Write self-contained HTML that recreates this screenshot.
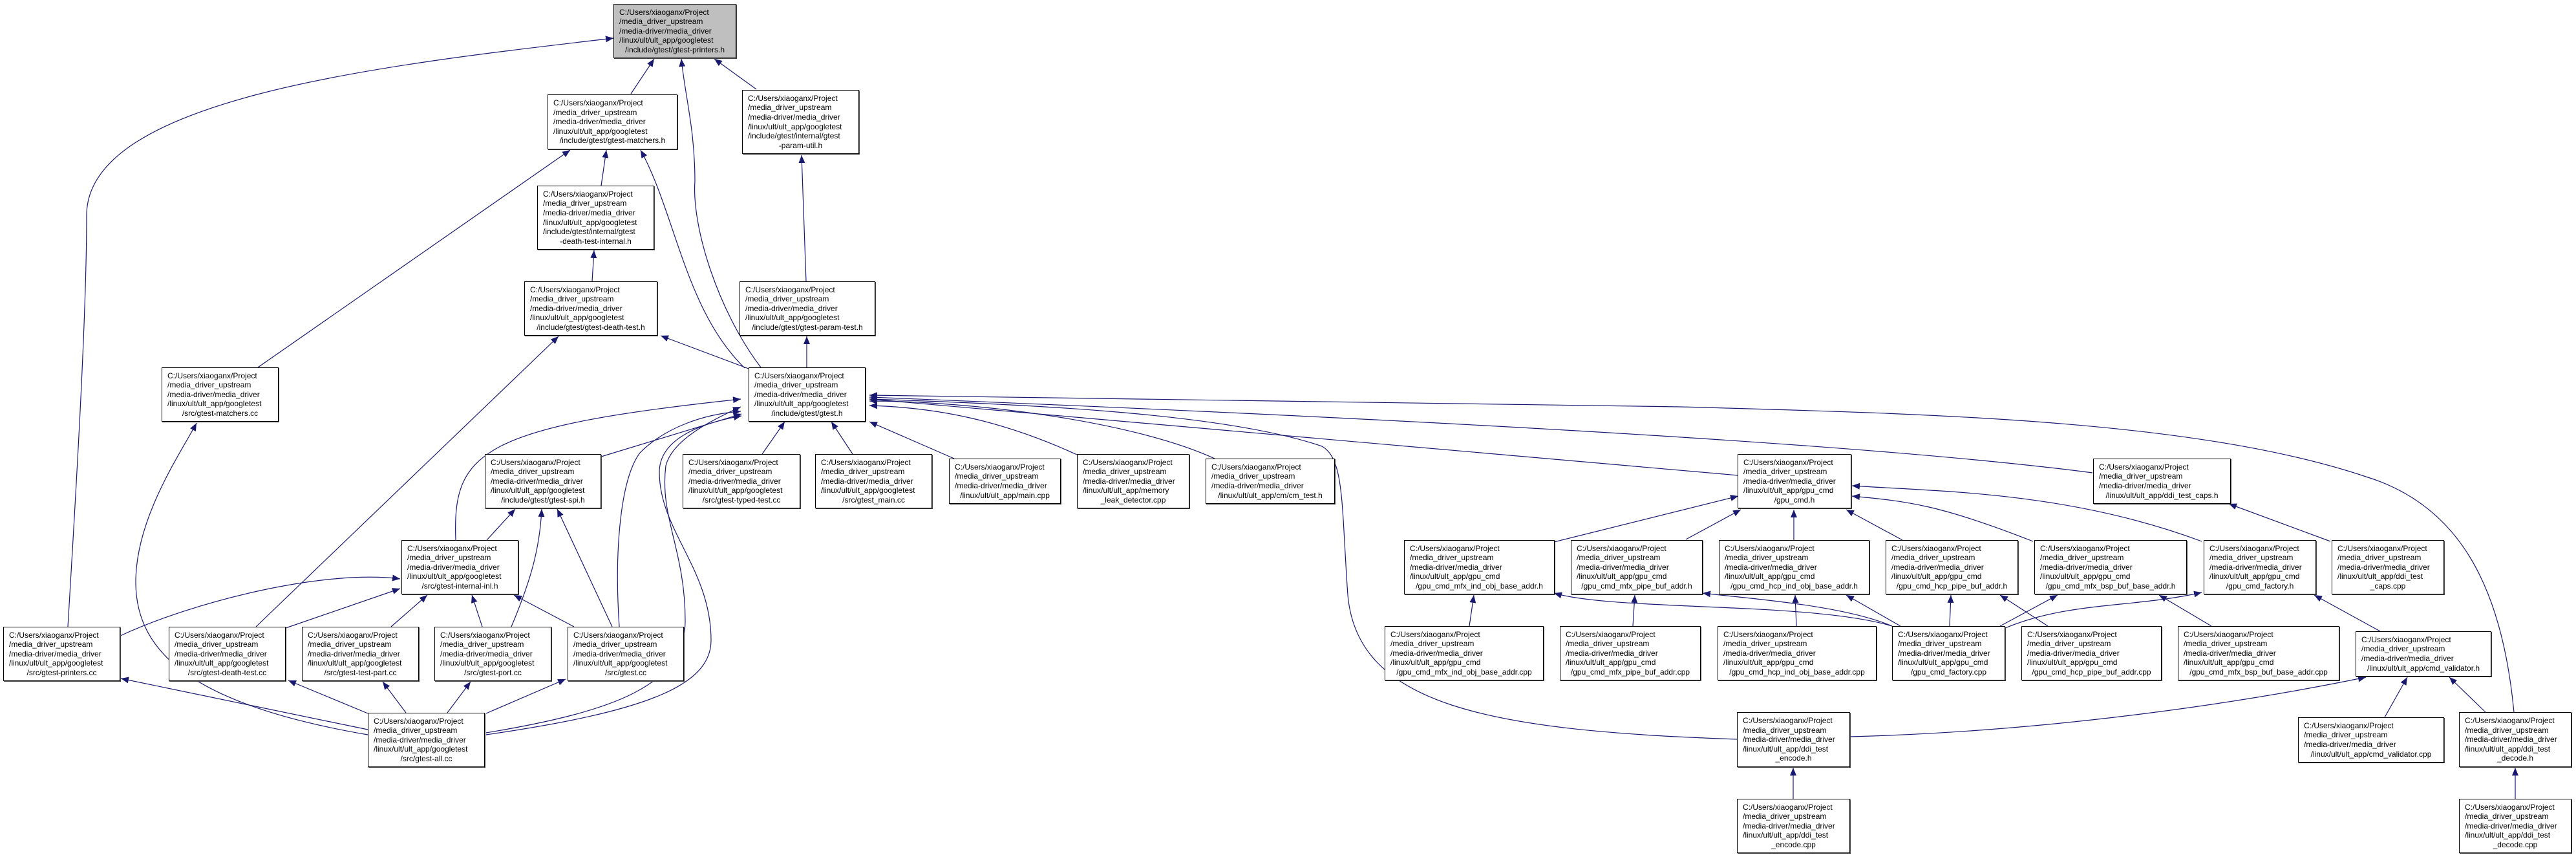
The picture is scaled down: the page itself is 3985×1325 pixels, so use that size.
<!DOCTYPE html>
<html><head><meta charset="utf-8"><style>
html,body{margin:0;padding:0;background:#fff;}
body{width:3985px;height:1325px;position:relative;overflow:hidden;font-family:"Liberation Sans",sans-serif;}
svg{position:absolute;left:0;top:0;}
.n{position:absolute;box-sizing:border-box;border:1px solid #000;box-shadow:1px 1px 0 #444;background:#fff;display:flex;flex-direction:column;justify-content:center;padding:0 8px;font-size:12px;line-height:14.6px;color:#000;white-space:nowrap;}
.n div:last-child{text-align:center;}
.g{background:#bfbfbf;}
</style></head><body>
<svg width="3985" height="1325" viewBox="0 0 3985 1325">
<defs><marker id="a" markerWidth="12" markerHeight="10" refX="12" refY="5" orient="auto" markerUnits="userSpaceOnUse"><path d="M0,0 L12,5 L0,10 z" fill="#191970"/></marker></defs>
<g fill="none" stroke="#191970" stroke-width="1.2" marker-end="url(#a)">
<path d="M105,969 C115,800 134,500 134,333 C134,150 600,100 949,59"/>
<path d="M976,145 L1012,91"/>
<path d="M1177,568 C1110,480 1070,350 1075,280 C1075,200 1060,150 1054,91"/>
<path d="M1170,138 L1105,91"/>
<path d="M399,568 L882,232"/>
<path d="M930,287 L938,232"/>
<path d="M1152,569 C1060,480 1045,330 991,232"/>
<path d="M916,435 L919,387"/>
<path d="M1158,570 L1022,519"/>
<path d="M1247,435 L1240,240"/>
<path d="M1248,568 L1248,520"/>
<path d="M396,969 L864,520"/>
<path d="M569,1136 C300,1090 210,1010 210,900 C210,800 280,700 304,654"/>
<path d="M569,1128 L187,1049"/>
<path d="M569,1103 L446,1052"/>
<path d="M628,1102 L592,1054"/>
<path d="M692,1102 L728,1054"/>
<path d="M752,1103 L875,1050"/>
<path d="M752,1133 C950,1100 1060,1060 1060,960 C1060,850 1020,800 1030,720 C1040,680 1100,650 1146,629"/>
<path d="M752,1136 C1000,1100 1100,1060 1100,990 C1100,880 1020,820 1020,730 C1020,680 1080,655 1147,643"/>
<path d="M958,969 C950,850 960,740 990,700 C1030,660 1090,640 1146,636"/>
<path d="M705,835 C700,700 740,660 1146,617"/>
<path d="M930,706 L1147,640"/>
<path d="M753,835 L797,787"/>
<path d="M791,969 C820,900 835,850 838,787"/>
<path d="M947,969 L862,787"/>
<path d="M186,983 C300,930 500,880 619,895"/>
<path d="M442,971 L619,910"/>
<path d="M605,969 L661,920"/>
<path d="M746,969 L730,920"/>
<path d="M888,969 L795,920"/>
<path d="M1179,702 L1214,652"/>
<path d="M1319,702 L1286,652"/>
<path d="M1476,709 L1345,652"/>
<path d="M1666,703 C1550,650 1450,630 1345,627"/>
<path d="M1879,709 C1750,650 1500,620 1345,620"/>
<path d="M2689,735 L1345,617"/>
<path d="M3237,731 C3000,700 2500,660 1345,614"/>
<path d="M3889,1101 C3870,900 3800,780 3660,737 C3400,650 3000,640 2600,629 L1345,611"/>
<path d="M2689,1143 C2300,1130 2100,1090 2085,920 C2075,780 2080,710 2045,690 C1900,640 1600,625 1345,617"/>
<path d="M2404,838 L2689,767"/>
<path d="M2608,834 L2693,788"/>
<path d="M2775,835 L2775,788"/>
<path d="M2943,835 L2856,788"/>
<path d="M3145,837 C3000,780 2950,775 2865,767"/>
<path d="M3406,837 C3200,760 3000,760 2865,751"/>
<path d="M2273,968 L2280,920"/>
<path d="M2526,968 L2529,920"/>
<path d="M2779,968 L2777,920"/>
<path d="M2940,968 L2856,920"/>
<path d="M3016,968 L3018,920"/>
<path d="M3094,968 L3183,920"/>
<path d="M3102,971 C3200,930 3300,940 3406,916"/>
<path d="M2927,968 C2800,930 2500,945 2404,917"/>
<path d="M2927,968 C2850,935 2700,925 2634,917"/>
<path d="M3168,968 L3094,920"/>
<path d="M3421,968 L3340,920"/>
<path d="M3682,976 L3580,920"/>
<path d="M3605,837 L3448,779"/>
<path d="M2862,1139 C3200,1130 3500,1080 3660,1047"/>
<path d="M3689,1109 L3724,1047"/>
<path d="M3845,1101 L3789,1047"/>
<path d="M2774,1235 L2774,1187"/>
<path d="M3891,1235 L3891,1187"/>
</g>
</svg>

<div class="n g" style="left:949px;top:6px;width:190px;height:84px"><div>C:/Users/xiaoganx/Project</div><div>/media_driver_upstream</div><div>/media-driver/media_driver</div><div>/linux/ult/ult_app/googletest</div><div>/include/gtest/gtest-printers.h</div></div>
<div class="n" style="left:847px;top:146px;width:201px;height:85px"><div>C:/Users/xiaoganx/Project</div><div>/media_driver_upstream</div><div>/media-driver/media_driver</div><div>/linux/ult/ult_app/googletest</div><div>/include/gtest/gtest-matchers.h</div></div>
<div class="n" style="left:1148px;top:139px;width:181px;height:99px"><div>C:/Users/xiaoganx/Project</div><div>/media_driver_upstream</div><div>/media-driver/media_driver</div><div>/linux/ult/ult_app/googletest</div><div>/include/gtest/internal/gtest</div><div>-param-util.h</div></div>
<div class="n" style="left:831px;top:287px;width:181px;height:99px"><div>C:/Users/xiaoganx/Project</div><div>/media_driver_upstream</div><div>/media-driver/media_driver</div><div>/linux/ult/ult_app/googletest</div><div>/include/gtest/internal/gtest</div><div>-death-test-internal.h</div></div>
<div class="n" style="left:811px;top:435px;width:206px;height:84px"><div>C:/Users/xiaoganx/Project</div><div>/media_driver_upstream</div><div>/media-driver/media_driver</div><div>/linux/ult/ult_app/googletest</div><div>/include/gtest/gtest-death-test.h</div></div>
<div class="n" style="left:1144px;top:435px;width:210px;height:84px"><div>C:/Users/xiaoganx/Project</div><div>/media_driver_upstream</div><div>/media-driver/media_driver</div><div>/linux/ult/ult_app/googletest</div><div>/include/gtest/gtest-param-test.h</div></div>
<div class="n" style="left:250px;top:568px;width:181px;height:84px"><div>C:/Users/xiaoganx/Project</div><div>/media_driver_upstream</div><div>/media-driver/media_driver</div><div>/linux/ult/ult_app/googletest</div><div>/src/gtest-matchers.cc</div></div>
<div class="n" style="left:1158px;top:568px;width:181px;height:84px"><div>C:/Users/xiaoganx/Project</div><div>/media_driver_upstream</div><div>/media-driver/media_driver</div><div>/linux/ult/ult_app/googletest</div><div>/include/gtest/gtest.h</div></div>
<div class="n" style="left:750px;top:702px;width:180px;height:84px"><div>C:/Users/xiaoganx/Project</div><div>/media_driver_upstream</div><div>/media-driver/media_driver</div><div>/linux/ult/ult_app/googletest</div><div>/include/gtest/gtest-spi.h</div></div>
<div class="n" style="left:1056px;top:702px;width:182px;height:84px"><div>C:/Users/xiaoganx/Project</div><div>/media_driver_upstream</div><div>/media-driver/media_driver</div><div>/linux/ult/ult_app/googletest</div><div>/src/gtest-typed-test.cc</div></div>
<div class="n" style="left:1261px;top:702px;width:181px;height:84px"><div>C:/Users/xiaoganx/Project</div><div>/media_driver_upstream</div><div>/media-driver/media_driver</div><div>/linux/ult/ult_app/googletest</div><div>/src/gtest_main.cc</div></div>
<div class="n" style="left:1468px;top:709px;width:173px;height:70px"><div>C:/Users/xiaoganx/Project</div><div>/media_driver_upstream</div><div>/media-driver/media_driver</div><div>/linux/ult/ult_app/main.cpp</div></div>
<div class="n" style="left:1666px;top:702px;width:174px;height:84px"><div>C:/Users/xiaoganx/Project</div><div>/media_driver_upstream</div><div>/media-driver/media_driver</div><div>/linux/ult/ult_app/memory</div><div>_leak_detector.cpp</div></div>
<div class="n" style="left:1865px;top:709px;width:200px;height:70px"><div>C:/Users/xiaoganx/Project</div><div>/media_driver_upstream</div><div>/media-driver/media_driver</div><div>/linux/ult/ult_app/cm/cm_test.h</div></div>
<div class="n" style="left:621px;top:835px;width:181px;height:84px"><div>C:/Users/xiaoganx/Project</div><div>/media_driver_upstream</div><div>/media-driver/media_driver</div><div>/linux/ult/ult_app/googletest</div><div>/src/gtest-internal-inl.h</div></div>
<div class="n" style="left:5px;top:969px;width:181px;height:84px"><div>C:/Users/xiaoganx/Project</div><div>/media_driver_upstream</div><div>/media-driver/media_driver</div><div>/linux/ult/ult_app/googletest</div><div>/src/gtest-printers.cc</div></div>
<div class="n" style="left:261px;top:969px;width:181px;height:84px"><div>C:/Users/xiaoganx/Project</div><div>/media_driver_upstream</div><div>/media-driver/media_driver</div><div>/linux/ult/ult_app/googletest</div><div>/src/gtest-death-test.cc</div></div>
<div class="n" style="left:467px;top:969px;width:181px;height:84px"><div>C:/Users/xiaoganx/Project</div><div>/media_driver_upstream</div><div>/media-driver/media_driver</div><div>/linux/ult/ult_app/googletest</div><div>/src/gtest-test-part.cc</div></div>
<div class="n" style="left:672px;top:969px;width:181px;height:84px"><div>C:/Users/xiaoganx/Project</div><div>/media_driver_upstream</div><div>/media-driver/media_driver</div><div>/linux/ult/ult_app/googletest</div><div>/src/gtest-port.cc</div></div>
<div class="n" style="left:878px;top:969px;width:180px;height:84px"><div>C:/Users/xiaoganx/Project</div><div>/media_driver_upstream</div><div>/media-driver/media_driver</div><div>/linux/ult/ult_app/googletest</div><div>/src/gtest.cc</div></div>
<div class="n" style="left:569px;top:1102px;width:181px;height:84px"><div>C:/Users/xiaoganx/Project</div><div>/media_driver_upstream</div><div>/media-driver/media_driver</div><div>/linux/ult/ult_app/googletest</div><div>/src/gtest-all.cc</div></div>
<div class="n" style="left:2688px;top:702px;width:176px;height:84px"><div>C:/Users/xiaoganx/Project</div><div>/media_driver_upstream</div><div>/media-driver/media_driver</div><div>/linux/ult/ult_app/gpu_cmd</div><div>/gpu_cmd.h</div></div>
<div class="n" style="left:3238px;top:709px;width:213px;height:70px"><div>C:/Users/xiaoganx/Project</div><div>/media_driver_upstream</div><div>/media-driver/media_driver</div><div>/linux/ult/ult_app/ddi_test_caps.h</div></div>
<div class="n" style="left:2172px;top:835px;width:233px;height:84px"><div>C:/Users/xiaoganx/Project</div><div>/media_driver_upstream</div><div>/media-driver/media_driver</div><div>/linux/ult/ult_app/gpu_cmd</div><div>/gpu_cmd_mfx_ind_obj_base_addr.h</div></div>
<div class="n" style="left:2430px;top:835px;width:204px;height:84px"><div>C:/Users/xiaoganx/Project</div><div>/media_driver_upstream</div><div>/media-driver/media_driver</div><div>/linux/ult/ult_app/gpu_cmd</div><div>/gpu_cmd_mfx_pipe_buf_addr.h</div></div>
<div class="n" style="left:2659px;top:835px;width:233px;height:84px"><div>C:/Users/xiaoganx/Project</div><div>/media_driver_upstream</div><div>/media-driver/media_driver</div><div>/linux/ult/ult_app/gpu_cmd</div><div>/gpu_cmd_hcp_ind_obj_base_addr.h</div></div>
<div class="n" style="left:2917px;top:835px;width:205px;height:84px"><div>C:/Users/xiaoganx/Project</div><div>/media_driver_upstream</div><div>/media-driver/media_driver</div><div>/linux/ult/ult_app/gpu_cmd</div><div>/gpu_cmd_hcp_pipe_buf_addr.h</div></div>
<div class="n" style="left:3147px;top:835px;width:236px;height:84px"><div>C:/Users/xiaoganx/Project</div><div>/media_driver_upstream</div><div>/media-driver/media_driver</div><div>/linux/ult/ult_app/gpu_cmd</div><div>/gpu_cmd_mfx_bsp_buf_base_addr.h</div></div>
<div class="n" style="left:3409px;top:835px;width:174px;height:84px"><div>C:/Users/xiaoganx/Project</div><div>/media_driver_upstream</div><div>/media-driver/media_driver</div><div>/linux/ult/ult_app/gpu_cmd</div><div>/gpu_cmd_factory.h</div></div>
<div class="n" style="left:3607px;top:835px;width:174px;height:84px"><div>C:/Users/xiaoganx/Project</div><div>/media_driver_upstream</div><div>/media-driver/media_driver</div><div>/linux/ult/ult_app/ddi_test</div><div>_caps.cpp</div></div>
<div class="n" style="left:2142px;top:968px;width:246px;height:84px"><div>C:/Users/xiaoganx/Project</div><div>/media_driver_upstream</div><div>/media-driver/media_driver</div><div>/linux/ult/ult_app/gpu_cmd</div><div>/gpu_cmd_mfx_ind_obj_base_addr.cpp</div></div>
<div class="n" style="left:2413px;top:968px;width:218px;height:84px"><div>C:/Users/xiaoganx/Project</div><div>/media_driver_upstream</div><div>/media-driver/media_driver</div><div>/linux/ult/ult_app/gpu_cmd</div><div>/gpu_cmd_mfx_pipe_buf_addr.cpp</div></div>
<div class="n" style="left:2657px;top:968px;width:246px;height:84px"><div>C:/Users/xiaoganx/Project</div><div>/media_driver_upstream</div><div>/media-driver/media_driver</div><div>/linux/ult/ult_app/gpu_cmd</div><div>/gpu_cmd_hcp_ind_obj_base_addr.cpp</div></div>
<div class="n" style="left:2927px;top:968px;width:175px;height:84px"><div>C:/Users/xiaoganx/Project</div><div>/media_driver_upstream</div><div>/media-driver/media_driver</div><div>/linux/ult/ult_app/gpu_cmd</div><div>/gpu_cmd_factory.cpp</div></div>
<div class="n" style="left:3127px;top:968px;width:217px;height:84px"><div>C:/Users/xiaoganx/Project</div><div>/media_driver_upstream</div><div>/media-driver/media_driver</div><div>/linux/ult/ult_app/gpu_cmd</div><div>/gpu_cmd_hcp_pipe_buf_addr.cpp</div></div>
<div class="n" style="left:3369px;top:968px;width:250px;height:84px"><div>C:/Users/xiaoganx/Project</div><div>/media_driver_upstream</div><div>/media-driver/media_driver</div><div>/linux/ult/ult_app/gpu_cmd</div><div>/gpu_cmd_mfx_bsp_buf_base_addr.cpp</div></div>
<div class="n" style="left:3644px;top:976px;width:210px;height:70px"><div>C:/Users/xiaoganx/Project</div><div>/media_driver_upstream</div><div>/media-driver/media_driver</div><div>/linux/ult/ult_app/cmd_validator.h</div></div>
<div class="n" style="left:2687px;top:1101px;width:175px;height:85px"><div>C:/Users/xiaoganx/Project</div><div>/media_driver_upstream</div><div>/media-driver/media_driver</div><div>/linux/ult/ult_app/ddi_test</div><div>_encode.h</div></div>
<div class="n" style="left:3555px;top:1109px;width:226px;height:70px"><div>C:/Users/xiaoganx/Project</div><div>/media_driver_upstream</div><div>/media-driver/media_driver</div><div>/linux/ult/ult_app/cmd_validator.cpp</div></div>
<div class="n" style="left:3804px;top:1101px;width:174px;height:85px"><div>C:/Users/xiaoganx/Project</div><div>/media_driver_upstream</div><div>/media-driver/media_driver</div><div>/linux/ult/ult_app/ddi_test</div><div>_decode.h</div></div>
<div class="n" style="left:2687px;top:1235px;width:175px;height:84px"><div>C:/Users/xiaoganx/Project</div><div>/media_driver_upstream</div><div>/media-driver/media_driver</div><div>/linux/ult/ult_app/ddi_test</div><div>_encode.cpp</div></div>
<div class="n" style="left:3804px;top:1235px;width:174px;height:84px"><div>C:/Users/xiaoganx/Project</div><div>/media_driver_upstream</div><div>/media-driver/media_driver</div><div>/linux/ult/ult_app/ddi_test</div><div>_decode.cpp</div></div>
</body></html>
